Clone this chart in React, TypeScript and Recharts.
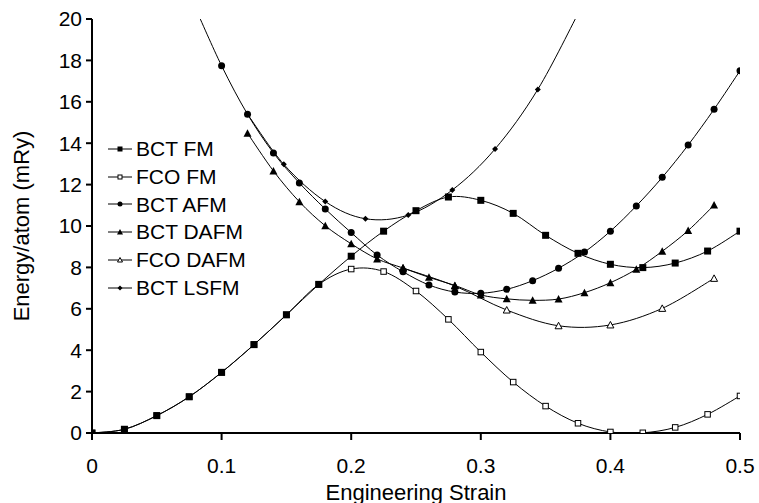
import { Line, LineChart, XAxis, YAxis } from "recharts"

// strain steps for each calculation set
const strainFM = [
  0, 0.025, 0.05, 0.075, 0.1, 0.125, 0.15, 0.175, 0.2, 0.225, 0.25, 0.275, 0.3,
  0.325, 0.35, 0.375, 0.4, 0.425, 0.45, 0.475, 0.5,
]
const strainAFM = [
  0.08, 0.1, 0.12, 0.14, 0.16, 0.18, 0.2, 0.22, 0.24, 0.26, 0.28, 0.3, 0.32, 0.34,
  0.36, 0.38, 0.4, 0.42, 0.44, 0.46, 0.48, 0.5,
]
const strainDAFM = [
  0.12, 0.14, 0.16, 0.18, 0.2, 0.22, 0.24, 0.26, 0.28, 0.3, 0.32, 0.34, 0.36,
  0.38, 0.4, 0.42, 0.44, 0.46, 0.48,
]
const strainFcoDAFM = [0.24, 0.28, 0.32, 0.36, 0.4, 0.44, 0.48]
const strainLSFM = [0.12, 0.148, 0.18, 0.211, 0.244, 0.278, 0.311, 0.344, 0.377]

// energies in mRy/atom
const bctFM = [
  0, 0.18, 0.84, 1.75, 2.93, 4.27, 5.71, 7.18, 8.54, 9.75, 10.74, 11.4, 11.24,
  10.61, 9.55, 8.68, 8.15, 7.99, 8.21, 8.79, 9.75,
]
const fcoFM = [
  0, 0.18, 0.84, 1.75, 2.93, 4.27, 5.71, 7.18, 7.92, 7.8, 6.86, 5.49, 3.91, 2.46,
  1.3, 0.47, 0.05, 0.01, 0.27, 0.9, 1.79,
]
const bctAFM = [
  20.5, 17.74, 15.4, 13.53, 12.08, 10.82, 9.68, 8.6, 7.79, 7.15, 6.81, 6.75, 6.94,
  7.36, 7.96, 8.74, 9.75, 10.97, 12.35, 13.91, 15.64, 17.5,
]
const bctDAFM = [
  14.48, 12.66, 11.17, 10.01, 9.14, 8.41, 7.97, 7.52, 7.13, 6.67, 6.48, 6.41,
  6.47, 6.78, 7.26, 7.91, 8.78, 9.78, 11.01,
]
const fcoDAFM = [7.97, 7.1, 5.94, 5.18, 5.22, 6.02, 7.47]
const bctLSFM = [15.4, 12.98, 11.18, 10.35, 10.53, 11.74, 13.72, 16.6, 20.5]

const xTicks = [0, 0.1, 0.2, 0.3, 0.4, 0.5]
const yTicks = [0, 2, 4, 6, 8, 10, 12, 14, 16, 18, 20]

const FONT = "'Liberation Sans', Arial, sans-serif"

type Shape = "square" | "openSquare" | "circle" | "triangle" | "openTriangle" | "diamond"

const toPoints = (xs: number[], ys: number[]) => xs.map((x, i) => ({ x, y: ys[i] }))

// legend order
const legendItems: { name: string; shape: Shape }[] = [
  { name: "BCT FM", shape: "square" },
  { name: "FCO FM", shape: "openSquare" },
  { name: "BCT AFM", shape: "circle" },
  { name: "BCT DAFM", shape: "triangle" },
  { name: "FCO DAFM", shape: "openTriangle" },
  { name: "BCT LSFM", shape: "diamond" },
]

// drawing order (open / hidden ones first so filled markers sit on top)
const series: { name: string; shape: Shape; data: { x: number; y: number }[] }[] = [
  { name: "FCO FM", shape: "openSquare", data: toPoints(strainFM, fcoFM) },
  { name: "FCO DAFM", shape: "openTriangle", data: toPoints(strainFcoDAFM, fcoDAFM) },
  { name: "BCT LSFM", shape: "diamond", data: toPoints(strainLSFM, bctLSFM) },
  { name: "BCT DAFM", shape: "triangle", data: toPoints(strainDAFM, bctDAFM) },
  { name: "BCT AFM", shape: "circle", data: toPoints(strainAFM, bctAFM) },
  { name: "BCT FM", shape: "square", data: toPoints(strainFM, bctFM) },
]

// spreadsheet-style smoothed line (catmull-rom through the points)
function smoothCurve(context: any) {
  let pts: [number, number][] = []
  return {
    areaStart() {},
    areaEnd() {},
    lineStart() {
      pts = []
    },
    point(x: number, y: number) {
      pts.push([+x, +y])
    },
    lineEnd() {
      const n = pts.length
      if (!n) return
      context.moveTo(pts[0][0], pts[0][1])
      for (let i = 0; i < n - 1; i++) {
        const p0 = pts[Math.max(0, i - 1)]
        const p1 = pts[i]
        const p2 = pts[i + 1]
        const p3 = pts[Math.min(n - 1, i + 2)]
        context.bezierCurveTo(
          p1[0] + (p2[0] - p0[0]) / 6,
          p1[1] + (p2[1] - p0[1]) / 6,
          p2[0] - (p3[0] - p1[0]) / 6,
          p2[1] - (p3[1] - p1[1]) / 6,
          p2[0],
          p2[1]
        )
      }
    },
  }
}

function Marker({ shape, cx, cy, s }: { shape: Shape; cx: number; cy: number; s: number }) {
  const h = s / 2
  switch (shape) {
    case "square":
      return <rect x={cx - h} y={cy - h} width={s} height={s} fill="#000" />
    case "openSquare":
      return (
        <rect x={cx - h + 0.5} y={cy - h + 0.5} width={s - 1} height={s - 1} fill="#fff" stroke="#000" strokeWidth={1} />
      )
    case "circle":
      return <circle cx={cx} cy={cy} r={h} fill="#000" />
    case "triangle":
      return <polygon points={`${cx},${cy - h - 0.5} ${cx + h + 0.5},${cy + h} ${cx - h - 0.5},${cy + h}`} fill="#000" />
    case "openTriangle":
      return (
        <polygon
          points={`${cx},${cy - h} ${cx + h},${cy + h - 0.5} ${cx - h},${cy + h - 0.5}`}
          fill="#fff"
          stroke="#000"
          strokeWidth={1}
        />
      )
    case "diamond":
      return <polygon points={`${cx},${cy - h} ${cx + h},${cy} ${cx},${cy + h} ${cx - h},${cy}`} fill="#000" />
  }
  return null
}

const LegendBox = () => (
  <div style={{ position: "absolute", left: 108, top: 135, fontFamily: FONT, fontSize: 21, color: "#000" }}>
    {legendItems.map((item) => (
      <div key={item.name} style={{ display: "flex", alignItems: "center", height: 27.8 }}>
        <svg width={28} height={12} style={{ display: "block" }}>
          <line x1={0} y1={6} x2={24} y2={6} stroke="#000" strokeWidth={1} />
          <Marker shape={item.shape} cx={12} cy={6} s={5} />
        </svg>
        <span style={{ lineHeight: "27.8px", whiteSpace: "nowrap" }}>{item.name}</span>
      </div>
    ))}
  </div>
)

const YTitle = ({ viewBox }: any) => {
  const x = 29
  const y = viewBox.y + viewBox.height / 2
  return (
    <text x={x} y={y} transform={`rotate(-90 ${x} ${y})`} textAnchor="middle" fontFamily={FONT} fontSize={22} fill="#000">
      Energy/atom (mRy)
    </text>
  )
}

const XTitle = ({ viewBox }: any) => (
  <text x={viewBox.x + viewBox.width / 2} y={500} textAnchor="middle" fontFamily={FONT} fontSize={22} fill="#000">
    Engineering Strain
  </text>
)

export default function App() {
  return (
    <div style={{ position: "absolute", left: 0, top: 0, width: 759, height: 503, background: "#fff" }}>
      <LineChart width={759} height={503} margin={{ top: 19, right: 19, bottom: 20, left: 30 }}>
        <XAxis
          dataKey="x"
          type="number"
          domain={[0, 0.5]}
          ticks={xTicks}
          allowDataOverflow
          height={50}
          axisLine={{ stroke: "#000", strokeWidth: 2 }}
          tickLine={{ stroke: "#000", strokeWidth: 2 }}
          tickSize={7}
          tickMargin={18}
          tick={{ fill: "#000", fontSize: 21, fontFamily: FONT }}
          label={<XTitle />}
        />
        <YAxis
          type="number"
          domain={[0, 20]}
          ticks={yTicks}
          allowDataOverflow
          width={62}
          axisLine={{ stroke: "#000", strokeWidth: 2 }}
          tickLine={{ stroke: "#000", strokeWidth: 2 }}
          tickSize={6}
          tickMargin={4}
          tick={{ fill: "#000", fontSize: 21, fontFamily: FONT }}
          label={<YTitle />}
        />
        {series.map((s) => (
          <Line
            key={s.name}
            name={s.name}
            data={s.data}
            dataKey="y"
            type={smoothCurve as any}
            stroke="#000"
            strokeWidth={1}
            isAnimationActive={false}
            legendType="none"
            dot={(p: any) =>
              p.cx == null || p.cy == null ? (
                <g key={`${s.name}-${p.index}`} />
              ) : (
                <g key={`${s.name}-${p.index}`}>
                  <Marker
                    shape={s.shape}
                    cx={p.cx}
                    cy={p.cy}
                    s={s.shape === "diamond" ? 6 : s.shape === "openSquare" ? 6.5 : 7}
                  />
                </g>
              )
            }
            activeDot={false}
          />
        ))}
      </LineChart>
      <LegendBox />
    </div>
  )
}
